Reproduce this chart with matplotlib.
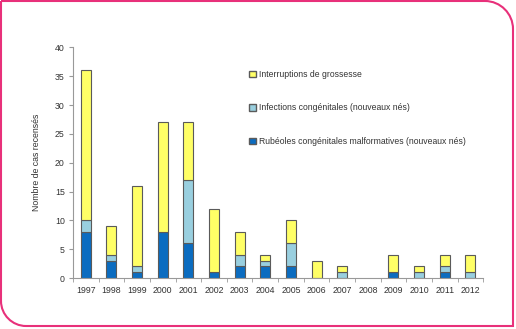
import numpy as np
import matplotlib.pyplot as plt
from matplotlib.patches import Patch
from matplotlib.path import Path
from matplotlib.patches import PathPatch

plt.rcParams['font.family'] = ['Liberation Sans', 'DejaVu Sans']

# Données
annees = ['1997', '1998', '1999', '2000', '2001', '2002', '2003', '2004',
          '2005', '2006', '2007', '2008', '2009', '2010', '2011', '2012']
malformatives = [8, 3, 1, 8, 6, 1, 2, 2, 2, 0, 0, 0, 1, 0, 1, 0]
infections = [2, 1, 1, 0, 11, 0, 2, 1, 4, 0, 1, 0, 0, 1, 1, 1]
interruptions = [26, 5, 14, 19, 10, 11, 4, 1, 4, 3, 1, 0, 3, 1, 2, 3]

c_dark = '#0b6cc0'
c_light = '#99cfdf'
c_yellow = '#ffff66'
edge = '#5a5a5a'

fig = plt.figure(figsize=(5.16, 3.29), dpi=100)
ax = fig.add_axes([0.1415, 0.155, 0.795, 0.701])

x = np.arange(len(annees))
w = 0.39
m = np.array(malformatives)
i = np.array(infections)
g = np.array(interruptions)


def bords(v):
    # pas de contour pour les segments vides
    return [edge if val > 0 else 'none' for val in v]


ax.bar(x, m, w, color=c_dark, edgecolor=bords(m), linewidth=0.8)
ax.bar(x, i, w, bottom=m, color=c_light, edgecolor=bords(i), linewidth=0.8)
ax.bar(x, g, w, bottom=m + i, color=c_yellow, edgecolor=bords(g), linewidth=0.8)

ax.set_xlim(-0.5, len(annees) - 0.5)
ax.set_ylim(0, 40)
ax.set_yticks(range(0, 41, 5))
ax.set_xticks(x)
ax.set_xticklabels(annees)
ax.set_xticks(np.arange(-0.5, len(annees), 1), minor=True)
ax.tick_params(axis='x', which='major', length=0, labelsize=6.3, labelcolor='#333333', pad=6)
ax.tick_params(axis='x', which='minor', length=3, color='#999999', direction='out')
ax.tick_params(axis='y', length=3, color='#999999', labelsize=6.3, labelcolor='#333333', pad=3)
for s in ['top', 'right']:
    ax.spines[s].set_visible(False)
for s in ['left', 'bottom']:
    ax.spines[s].set_color('#999999')
    ax.spines[s].set_linewidth(0.8)
ax.set_ylabel('Nombre de cas recensés', fontsize=6.3, color='#333333', labelpad=10)

# Légende
handles = [Patch(facecolor=c_yellow, edgecolor=edge),
           Patch(facecolor=c_light, edgecolor=edge),
           Patch(facecolor=c_dark, edgecolor=edge)]
labels = ['Interruptions de grossesse',
          'Infections congénitales (nouveaux nés)',
          'Rubéoles congénitales malformatives (nouveaux nés)']
fig.legend(handles, labels, loc='upper left', bbox_to_anchor=(0.468, 0.811),
           frameon=False, fontsize=6.2, handlelength=0.8, handleheight=0.8,
           handletextpad=0.3, labelspacing=2.85, labelcolor='#333333')

# Cadre rose
W, H = 516, 329
r1, r2 = 28, 25
x0, x1, y0, y1 = 1, 513, 3, 328
k = 0.55
verts = [
    (x0, y1), (x1 - r1, y1),
    (x1 - r1 + k * r1, y1), (x1, y1 - r1 + k * r1), (x1, y1 - r1),
    (x1, y0),
    (x0 + r2, y0),
    (x0 + r2 - k * r2, y0), (x0, y0 + r2 - k * r2), (x0, y0 + r2),
    (x0, y1),
]
codes = [Path.MOVETO, Path.LINETO,
         Path.CURVE4, Path.CURVE4, Path.CURVE4,
         Path.LINETO, Path.LINETO,
         Path.CURVE4, Path.CURVE4, Path.CURVE4,
         Path.LINETO]
verts = [(vx / W, vy / H) for vx, vy in verts]
frame = PathPatch(Path(verts, codes), transform=fig.transFigure,
                  facecolor='none', edgecolor='#e8307a', linewidth=1.5)
fig.patches.append(frame)

fig.savefig('out.png', dpi=100)
